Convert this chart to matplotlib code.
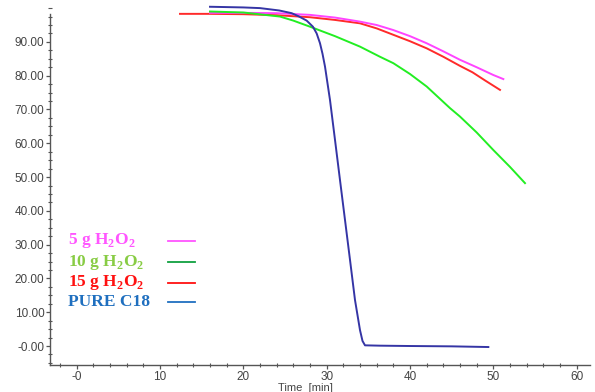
import numpy as np
import matplotlib
matplotlib.use("Agg")
import matplotlib.pyplot as plt
from matplotlib.ticker import MultipleLocator

plt.rcParams['font.family'] = ['Liberation Sans', 'DejaVu Sans']
plt.rcParams['mathtext.fontset'] = 'custom'
plt.rcParams['mathtext.rm'] = 'Liberation Serif:bold'
plt.rcParams['mathtext.bf'] = 'Liberation Serif:bold'

# curve data (time in min, value in %)
t_pure = [16, 20, 22, 24.3, 25.8, 26.7, 27.6, 28.35, 28.8, 29.2, 29.5, 29.8,
          30.4, 31.0, 31.6, 32.2, 32.8, 33.4, 34.0, 34.3, 34.6, 36.4, 40, 45, 49.4]
v_pure = [100.4, 100.2, 100.0, 99.3, 98.5, 97.5, 96.3, 94.5, 92.5, 89.6, 86.5,
          82.7, 72.8, 61.0, 49.1, 37.3, 25.5, 13.6, 4.7, 1.5, 0.2, 0.1, 0.0, -0.1, -0.3]

t_10 = [16, 20, 24.4, 26, 28, 31, 34, 36.4, 38, 40, 42, 44.8, 46, 48, 50, 52, 53.8]
v_10 = [99.0, 98.7, 97.5, 96.3, 94.5, 91.7, 88.6, 85.6, 83.7, 80.5, 76.8, 70.4,
        67.9, 63.2, 58.0, 53.0, 48.2]

t_15 = [12.4, 16, 20, 24, 28, 31, 34, 36, 38, 40, 42, 44, 46, 47.5, 49, 50.8]
v_15 = [98.3, 98.3, 98.2, 97.9, 97.3, 96.5, 95.5, 94.0, 92.1, 90.2, 88.1, 85.6,
        82.9, 81.0, 78.6, 75.8]

t_5 = [16, 20, 24, 28, 31, 34, 36, 38, 40, 42, 44, 46, 48, 50, 51.2]
v_5 = [98.6, 98.6, 98.5, 98.0, 97.2, 96.0, 95.0, 93.5, 91.7, 89.6, 87.2, 84.7,
       82.5, 80.2, 79.0]

legend_labels = [r"5 g H$_2$O$_2$", r"10 g H$_2$O$_2$", r"15 g H$_2$O$_2$", "PURE C18"]
legend_text_colors = ['#ff55ff', '#88cc44', '#ff1010', '#1f6fbf']
legend_line_colors = ['#ff55ff', '#10a040', '#ff1010', '#2070c0']

y_ticks = [0, 10, 20, 30, 40, 50, 60, 70, 80, 90]
y_labels = ['-0.00'] + ['%.2f' % v for v in y_ticks[1:]]
x_ticks = [0, 10, 20, 30, 40, 50, 60]
x_labels = ['-0'] + [str(v) for v in x_ticks[1:]]

fig = plt.figure(figsize=(5.95, 3.92), dpi=100)
ax = fig.add_axes([50/595, 1 - 365/392, 540/595, 365/392])

ax.plot(t_15, v_15, color='#ff2a2a', lw=1.4)
ax.plot(t_5, v_5, color='#ff44ff', lw=1.4)
ax.plot(t_10, v_10, color='#22ee22', lw=1.4)
ax.plot(t_pure, v_pure, color='#3535a5', lw=1.4)

ax.set_xlim(-3.2, 61.6)
ax.set_ylim(-5.62, 102.4)

for s in ['top', 'right']:
    ax.spines[s].set_visible(False)
ax.spines['left'].set_bounds(-5.62, 98.3)
for s in ['left', 'bottom']:
    ax.spines[s].set_color('#555555')
    ax.spines[s].set_linewidth(1.0)

ax.set_yticks(y_ticks)
ax.set_yticklabels(y_labels)
ax.set_xticks(x_ticks)
ax.set_xticklabels(x_labels)
ax.yaxis.set_minor_locator(MultipleLocator(2.5))
ax.xaxis.set_minor_locator(MultipleLocator(2))
ax.tick_params(which='major', length=3, width=0.9, color='#555555',
               labelcolor='#444444', labelsize=8.5, direction='out', pad=1)
ax.tick_params(which='minor', length=2.5, width=0.8, color='#555555', direction='inout')

fig.text(305/595, 1 - 388/392, 'Time  [min]', fontsize=8, color='#444444',
         ha='center', va='center')

rows = [241, 262, 283, 302]
for lab, tc, lc, yp in zip(legend_labels, legend_text_colors, legend_line_colors, rows):
    yf = 1 - yp / 392
    fig.text(68/595, yf, lab, fontsize=12.5, color=tc, family='Liberation Serif',
             fontweight='bold', va='center', ha='left')
    fig.add_artist(plt.Line2D([168/595, 195/595], [yf, yf], color=lc, lw=1.3,
                              transform=fig.transFigure))

fig.savefig('out.png', dpi=100)
